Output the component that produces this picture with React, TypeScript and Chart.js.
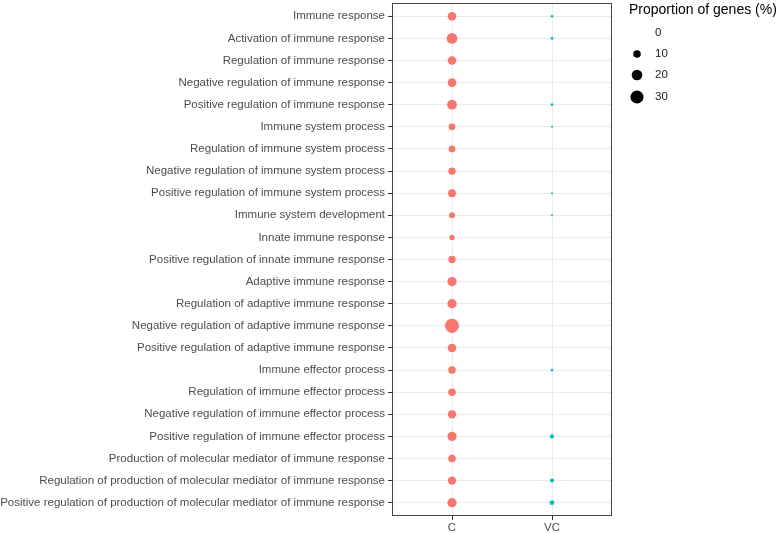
import { useEffect, useRef } from 'react';
import { Chart, registerables } from 'chart.js';
Chart.register(...registerables);

const categories = [
  'Immune response',
  'Activation of immune response',
  'Regulation of immune response',
  'Negative regulation of immune response',
  'Positive regulation of immune response',
  'Immune system process',
  'Regulation of immune system process',
  'Negative regulation of immune system process',
  'Positive regulation of immune system process',
  'Immune system development',
  'Innate immune response',
  'Positive regulation of innate immune response',
  'Adaptive immune response',
  'Regulation of adaptive immune response',
  'Negative regulation of adaptive immune response',
  'Positive regulation of adaptive immune response',
  'Immune effector process',
  'Regulation of immune effector process',
  'Negative regulation of immune effector process',
  'Positive regulation of immune effector process',
  'Production of molecular mediator of immune response',
  'Regulation of production of molecular mediator of immune response',
  'Positive regulation of production of molecular mediator of immune response',
];
const groups = ['C', 'VC'];
const cValues: (number | null)[] = [13, 20, 13, 13, 17, 8, 8, 9.5, 11, 6.5, 5, 9.5, 15, 15, 35, 13, 10, 10, 12, 15, 10, 12, 15];
const vcValues: (number | null)[] = [1.3, 1.5, null, null, 1.3, 0.7, null, null, 0.7, 0.7, null, null, null, null, null, null, 1.3, null, null, 3, null, 3, 4];
const legendValues = [0, 10, 20, 30];
const legendTitle = 'Proportion of genes (%)';

const FONT = '"Liberation Sans", Arial, sans-serif';
const PANEL_TOP = 3;
const rad = (v: number) => (v <= 0 ? 0 : 1.19 * Math.sqrt(v));

const toPoints = (vals: (number | null)[], gx: number) =>
  vals
    .map((v, i) => ({ x: gx, y: i + 1, v }))
    .filter((d) => d.v != null);

const fixTop = {
  id: 'fixTop',
  afterLayout(chart: any) {
    const y = chart.scales.y;
    y.top = PANEL_TOP;
    y.height = y.bottom - PANEL_TOP;
    y.configure();
    chart.chartArea.top = PANEL_TOP;
    chart.chartArea.height = chart.chartArea.bottom - PANEL_TOP;
  },
};

const panelBorder = {
  id: 'panelBorder',
  afterDraw(chart: any) {
    const { ctx, chartArea: a } = chart;
    ctx.save();
    ctx.strokeStyle = '#444444';
    ctx.lineWidth = 1;
    ctx.strokeRect(Math.round(a.left) + 0.5, Math.round(a.top) + 0.5, Math.round(a.right - a.left) - 1, Math.round(a.bottom - a.top) - 1);
    ctx.restore();
  },
};

const sizeLegend = {
  id: 'sizeLegend',
  afterDraw(chart: any) {
    const ctx = chart.ctx;
    ctx.save();
    ctx.fillStyle = '#000000';
    ctx.font = `14px ${FONT}`;
    ctx.textAlign = 'left';
    ctx.textBaseline = 'middle';
    ctx.fillText(legendTitle, 629, 10);
    const ys = [33, 54, 75, 97];
    legendValues.forEach((v, i) => {
      const r = rad(v);
      if (r > 0) {
        ctx.beginPath();
        ctx.arc(637, ys[i], r, 0, Math.PI * 2);
        ctx.fillStyle = '#000000';
        ctx.fill();
      }
      ctx.fillStyle = '#1A1A1A';
      ctx.font = `11.5px ${FONT}`;
      ctx.fillText(String(v), 655, ys[i]);
    });
    ctx.restore();
  },
};

export default function App() {
  const ref = useRef<HTMLCanvasElement>(null);
  useEffect(() => {
    document.body.style.margin = '0';
    const radius = (ctx: any) => rad(ctx.raw ? ctx.raw.v : 0);
    const chart = new Chart(ref.current!, {
      type: 'scatter',
      data: {
        datasets: [
          {
            label: 'C',
            data: toPoints(cValues, 1) as any,
            backgroundColor: '#F8766D',
            borderWidth: 0,
            pointRadius: radius,
            pointHoverRadius: radius,
          },
          {
            label: 'VC',
            data: toPoints(vcValues, 2) as any,
            backgroundColor: '#00BFC4',
            borderWidth: 0,
            pointRadius: radius,
            pointHoverRadius: radius,
          },
        ],
      },
      options: {
        responsive: false,
        animation: false,
        events: [],
        layout: { padding: { left: 0, top: 3, right: 169, bottom: 0 } },
        plugins: { legend: { display: false }, tooltip: { enabled: false } },
        scales: {
          x: {
            type: 'linear',
            min: 0.4,
            max: 2.6,
            afterBuildTicks: (s: any) => {
              s.ticks = groups.map((_, i) => ({ value: i + 1 }));
            },
            afterFit: (s: any) => {
              s.height = 17;
              s.paddingLeft = 0;
              s.paddingRight = 0;
            },
            ticks: {
              callback: (v: any) => groups[Number(v) - 1] ?? '',
              font: { family: FONT, size: 11.5 },
              color: '#4D4D4D',
              padding: 1,
              maxRotation: 0,
              autoSkip: false,
            },
            grid: { color: '#EBEBEB', lineWidth: 1, tickColor: '#333333', tickLength: 4 },
            border: { display: false },
          },
          y: {
            type: 'linear',
            reverse: true,
            min: 0.4,
            max: 23.6,
            afterBuildTicks: (s: any) => {
              s.ticks = categories.map((_, i) => ({ value: i + 1 }));
            },
            afterFit: (s: any) => {
              s.width = 392;
            },
            ticks: {
              callback: (v: any) => categories[Number(v) - 1] ?? '',
              font: { family: FONT, size: 11.5 },
              color: '#4D4D4D',
              padding: 3,
              autoSkip: false,
            },
            grid: { color: '#EBEBEB', lineWidth: 1, tickColor: '#333333', tickLength: 4 },
            border: { display: false },
          },
        },
      },
      plugins: [fixTop, panelBorder, sizeLegend],
    });
    return () => chart.destroy();
  }, []);
  return <canvas ref={ref} width={781} height={533} style={{ display: 'block' }} />;
}
